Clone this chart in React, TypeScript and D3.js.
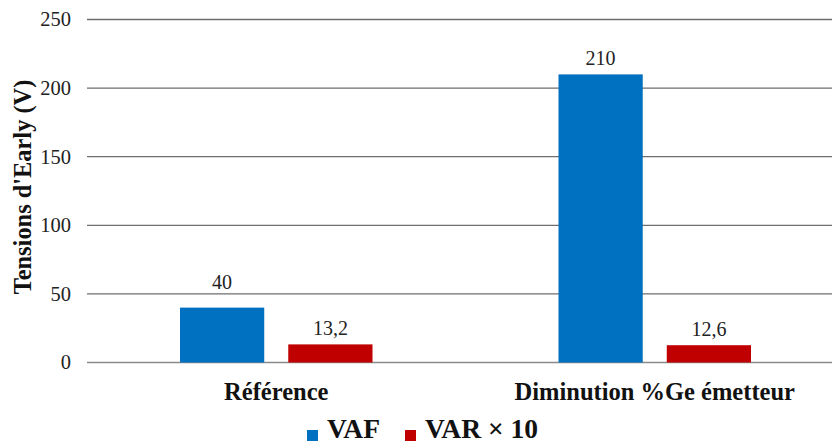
import React from 'react';
import * as d3 from 'd3';

const categories = ['Référence', 'Diminution %Ge émetteur'];
const seriesNames = ['VAF', 'VAR × 10'];
const vaf = [40, 210];
const var10 = [13.2, 12.6];
const varLabels = ['13,2', '12,6'];
const vafLabels = ['40', '210'];
const yTicks = [0, 50, 100, 150, 200, 250];
const colors = ['#0070C0', '#C00000'];

const serif = { fontFamily: "'Liberation Serif', 'Times New Roman', Times, serif" };

const App = () => {
  const width = 832;
  const height = 443;

  const x = d3.scaleBand<string>().domain(categories).range([87, 844]).paddingInner(0).paddingOuter(0);
  const inner = d3.scaleBand<string>().domain(seriesNames).range([93, x.bandwidth() - 93]).paddingInner(0.222);
  const y = d3.scaleLinear().domain([0, 250]).range([362.5, 19.5]);

  // data label baseline: 9px over the bar, pushed above a gridline it would cross
  const labelY = (v: number) => {
    let base = y(v) - 9;
    const hit = yTicks.find(t => y(t) > base - 14 && y(t) < base + 2);
    if (hit !== undefined) base = y(hit) - 5;
    return base;
  };

  const rows = categories.map((c, i) => ({ c, values: [vaf[i], var10[i]], labels: [vafLabels[i], varLabels[i]] }));

  return (
    <svg width={width} height={height} style={{ position: 'absolute', left: 0, top: 0, background: '#fff' }}>
      <g>
        {yTicks.map(t => (
          <g key={t}>
            <line x1={87} x2={width} y1={y(t)} y2={y(t)} stroke={t === 0 ? '#8a8a8a' : '#6e6e6e'} strokeWidth={1.3} />
            <text x={71} y={y(t)} dy="0.34em" textAnchor="end" style={serif} fontSize={20.5} fill="#222">{t}</text>
          </g>
        ))}
      </g>
      <text transform="translate(31,187) rotate(-90)" textAnchor="middle" style={serif} fontSize={24.4} fontWeight="bold" fill="#111">Tensions d'Early (V)</text>
      {rows.map(r => (
        <g key={r.c} transform={`translate(${x(r.c)},0)`}>
          {r.values.map((v, j) => {
            const bx = inner(seriesNames[j]) as number;
            return (
              <g key={j}>
                <rect x={bx} y={y(v)} width={inner.bandwidth()} height={y(0) - y(v)} fill={colors[j]} />
                <text x={bx + inner.bandwidth() / 2} y={labelY(v)} textAnchor="middle" style={serif} fontSize={20} fill="#222">{r.labels[j]}</text>
              </g>
            );
          })}
          <text x={x.bandwidth() / 2} y={400} textAnchor="middle" style={serif} fontSize={24.5} fontWeight="bold" fill="#111">{r.c}</text>
        </g>
      ))}
      <g>
        <rect x={307} y={430} width={11} height={11} fill={colors[0]} />
        <text x={327} y={438} style={serif} fontSize={27.5} fontWeight="bold" fill="#111">{seriesNames[0]}</text>
        <rect x={405} y={430} width={11} height={11} fill={colors[1]} />
        <text x={425} y={438} style={serif} fontSize={27.5} fontWeight="bold" fill="#111">{seriesNames[1]}</text>
      </g>
    </svg>
  );
};

export default App;
